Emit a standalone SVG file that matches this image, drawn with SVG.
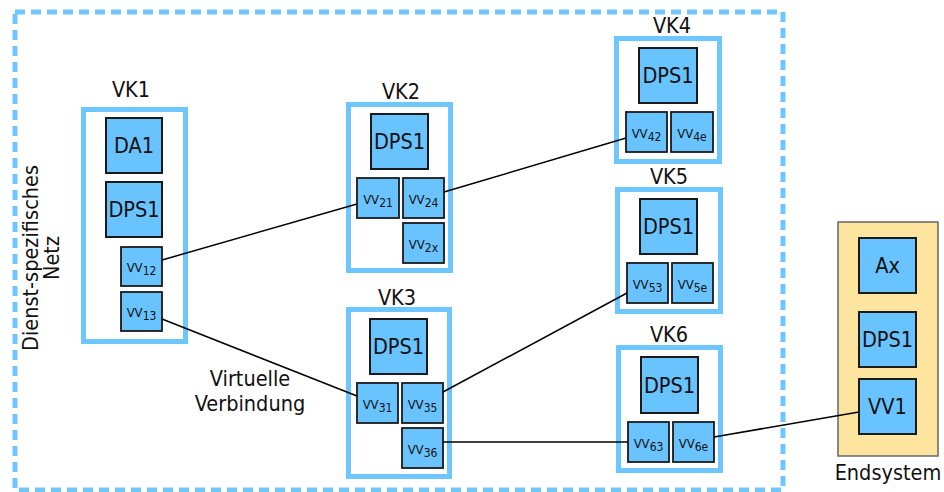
<svg xmlns="http://www.w3.org/2000/svg" width="944" height="492" viewBox="0 0 944 492">
  <style>
    text { font-family: "DejaVu Sans Condensed", "DejaVu Sans", "Liberation Sans", sans-serif; font-stretch: condensed; fill: #111; }
    .net { fill: none; stroke: #6ec6ff; stroke-width: 5; stroke-dasharray: 10 6; }
    .vk { fill: #fff; stroke: #6ec6ff; stroke-width: 5; }
    .blk { fill: #69c3ff; stroke: #1a1a1a; stroke-width: 2; }
    .vv { fill: #69c3ff; stroke: #1a1a1a; stroke-width: 1.8; }
    .es { fill: #fde59f; stroke: #666; stroke-width: 1.5; }
    .lbl { font-size: 21.5px; text-anchor: middle; }
    .big { font-size: 21.5px; text-anchor: middle; }
    .vvt { font-size: 13px; text-anchor: middle; }
    .sub { font-size: 12px; }
    .conn { stroke: #000; stroke-width: 1.5; fill: none; }
  </style>

  <!-- service-specific network boundary -->
  <g id="netz">
    <rect class="net" x="15" y="12" width="768" height="478"/>
    <text font-size="21.5" text-anchor="middle" transform="translate(38,258) rotate(-90)">Dienst-spezifisches</text>
    <text font-size="21.5" text-anchor="middle" transform="translate(59,258) rotate(-90)">Netz</text>
  </g>

  <!-- VK1 -->
  <g id="vk1">
    <text class="lbl" x="131" y="97">VK1</text>
    <rect class="vk" x="83.5" y="109.5" width="102" height="232"/>
    <rect class="blk" x="106" y="118" width="56" height="55"/>
    <text class="big" x="134" y="153">DA1</text>
    <rect class="blk" x="106" y="182" width="56" height="55"/>
    <text class="big" x="134" y="217">DPS1</text>
    <rect class="vv" x="121" y="247" width="41" height="39"/>
    <text class="vvt" x="141.5" y="272">VV<tspan class="sub" dy="3">12</tspan></text>
    <rect class="vv" x="121" y="292" width="41" height="39"/>
    <text class="vvt" x="141.5" y="317">VV<tspan class="sub" dy="3">13</tspan></text>
  </g>

  <!-- VK2 -->
  <g id="vk2">
    <text class="lbl" x="401" y="99">VK2</text>
    <rect class="vk" x="348.5" y="104.5" width="102" height="166"/>
    <rect class="blk" x="371" y="114" width="57" height="55"/>
    <text class="big" x="399.5" y="149">DPS1</text>
    <rect class="vv" x="357" y="178" width="42" height="40"/>
    <text class="vvt" x="378" y="204">VV<tspan class="sub" dy="3">21</tspan></text>
    <rect class="vv" x="403" y="178" width="41" height="40"/>
    <text class="vvt" x="423.5" y="204">VV<tspan class="sub" dy="3">24</tspan></text>
    <rect class="vv" x="403" y="223" width="41" height="40"/>
    <text class="vvt" x="423.5" y="249">VV<tspan class="sub" dy="3">2x</tspan></text>
  </g>

  <!-- VK3 -->
  <g id="vk3">
    <text class="lbl" x="397" y="305">VK3</text>
    <rect class="vk" x="348.5" y="309.5" width="101" height="167"/>
    <rect class="blk" x="370" y="319" width="57" height="55"/>
    <text class="big" x="398.5" y="354">DPS1</text>
    <rect class="vv" x="357" y="383" width="41" height="40"/>
    <text class="vvt" x="377.5" y="409">VV<tspan class="sub" dy="3">31</tspan></text>
    <rect class="vv" x="402" y="383" width="41" height="40"/>
    <text class="vvt" x="422.5" y="409">VV<tspan class="sub" dy="3">35</tspan></text>
    <rect class="vv" x="402" y="428" width="41" height="40"/>
    <text class="vvt" x="422.5" y="454">VV<tspan class="sub" dy="3">36</tspan></text>
  </g>

  <!-- VK4 -->
  <g id="vk4">
    <text class="lbl" x="672" y="33">VK4</text>
    <rect class="vk" x="616.5" y="38.5" width="103" height="123"/>
    <rect class="blk" x="639" y="48" width="58" height="55"/>
    <text class="big" x="668" y="83">DPS1</text>
    <rect class="vv" x="626" y="112" width="41" height="40"/>
    <text class="vvt" x="646.5" y="138">VV<tspan class="sub" dy="3">42</tspan></text>
    <rect class="vv" x="671" y="112" width="42" height="40"/>
    <text class="vvt" x="692" y="138">VV<tspan class="sub" dy="3">4e</tspan></text>
  </g>

  <!-- VK5 -->
  <g id="vk5">
    <text class="lbl" x="669" y="184">VK5</text>
    <rect class="vk" x="617.5" y="189.5" width="103" height="122"/>
    <rect class="blk" x="640" y="199" width="57" height="55"/>
    <text class="big" x="668.5" y="234">DPS1</text>
    <rect class="vv" x="627" y="263" width="41" height="40"/>
    <text class="vvt" x="647.5" y="289">VV<tspan class="sub" dy="3">53</tspan></text>
    <rect class="vv" x="672" y="263" width="41" height="40"/>
    <text class="vvt" x="692.5" y="289">VV<tspan class="sub" dy="3">5e</tspan></text>
  </g>

  <!-- VK6 -->
  <g id="vk6">
    <text class="lbl" x="669" y="342">VK6</text>
    <rect class="vk" x="618.5" y="347.5" width="102" height="123"/>
    <rect class="blk" x="641" y="357" width="57" height="56"/>
    <text class="big" x="669.5" y="393">DPS1</text>
    <rect class="vv" x="628" y="422" width="41" height="40"/>
    <text class="vvt" x="648.5" y="448">VV<tspan class="sub" dy="3">63</tspan></text>
    <rect class="vv" x="673" y="422" width="41" height="40"/>
    <text class="vvt" x="693.5" y="448">VV<tspan class="sub" dy="3">6e</tspan></text>
  </g>

  <!-- end system -->
  <g id="endsystem">
    <rect class="es" x="838" y="222" width="100" height="234"/>
    <rect class="blk" x="859" y="238" width="57" height="55"/>
    <text class="big" x="887.5" y="273">Ax</text>
    <rect class="blk" x="859" y="312" width="57" height="55"/>
    <text class="big" x="887.5" y="347">DPS1</text>
    <rect class="blk" x="859" y="379" width="57" height="55"/>
    <text class="big" x="887.5" y="414">VV1</text>
    <text class="lbl" x="888" y="480">Endsystem</text>
  </g>

  <!-- connector caption -->
  <g id="caption">
    <text class="lbl" x="250" y="386">Virtuelle</text>
    <text class="lbl" x="250" y="411">Verbindung</text>
  </g>

  <!-- connectors (virtual connections), drawn over the node frames -->
  <g id="connectors">
    <line class="conn" x1="162" y1="260" x2="357" y2="204"/>
    <line class="conn" x1="444" y1="192" x2="626" y2="138"/>
    <line class="conn" x1="162" y1="319" x2="357" y2="396"/>
    <line class="conn" x1="443" y1="392" x2="627" y2="293"/>
    <line class="conn" x1="443" y1="442" x2="628" y2="442"/>
    <line class="conn" x1="714" y1="437" x2="859" y2="412"/>
  </g>
</svg>
